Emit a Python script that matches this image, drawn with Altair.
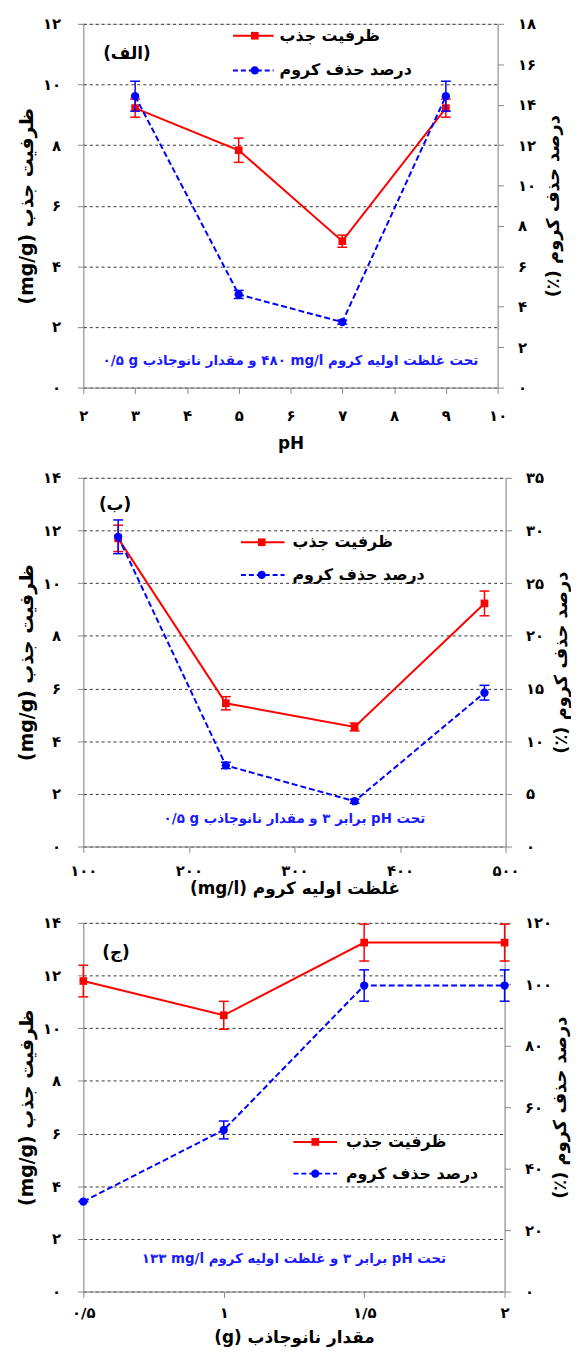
import altair as alt
import pandas as pd

RLE, LRE, PDF = "\u202B", "\u202A", "\u202C"


def rtl(s):
    return RLE + s + PDF


def ltr(s):
    return LRE + s + PDF


FONT = "DejaVu Sans"
RED = "#FF0000"
BLUE = "#0000FF"
ANN_BLUE = "#1a1aff"

# ---------------- data: panel A (pH) ----------------
ph = [3, 5, 7, 9]
cap_ph = [9.22, 7.83, 4.83, 9.22]
cap_ph_err = [0.3, 0.4, 0.2, 0.3]
rem_ph = [14.42, 4.61, 3.24, 14.42]
rem_ph_err = [0.74, 0.2, 0.1, 0.74]

# ---------------- data: panel B (initial concentration) ----------------
conc = [133, 235, 357, 480]
cap_conc = [11.7, 5.44, 4.54, 9.23]
cap_conc_err = [0.5, 0.25, 0.15, 0.47]
rem_conc = [29.4, 7.7, 4.3, 14.6]
rem_conc_err = [1.6, 0.3, 0.2, 0.7]

# ---------------- data: panel C (dose) ----------------
dose = [0.5, 1.0, 1.5, 2.0]
cap_dose = [11.79, 10.49, 13.25, 13.25]
cap_dose_err = [0.6, 0.53, 0.7, 0.7]
rem_dose = [29.3, 52.6, 99.6, 99.6]
rem_dose_err = [0.0, 2.9, 5.1, 5.1]

# ---------------- tick values / labels ----------------
ph_ticks = [2, 3, 4, 5, 6, 7, 8, 9, 10]
ph_labels = ["۲", "۳", "۴", "۵", "۶", "۷", "۸", "۹", "۱۰"]
conc_ticks = [100, 200, 300, 400, 500]
conc_labels = ["۱۰۰", "۲۰۰", "۳۰۰", "۴۰۰", "۵۰۰"]
dose_ticks = [0.5, 1.0, 1.5, 2.0]
dose_labels = ["۰/۵", "۱", "۱/۵", "۲"]

capA_ticks = [0, 2, 4, 6, 8, 10, 12]
capA_labels = ["۰", "۲", "۴", "۶", "۸", "۱۰", "۱۲"]
remA_ticks = [0, 2, 4, 6, 8, 10, 12, 14, 16, 18]
remA_labels = ["۰", "۲", "۴", "۶", "۸", "۱۰", "۱۲", "۱۴", "۱۶", "۱۸"]
cap14_ticks = [0, 2, 4, 6, 8, 10, 12, 14]
cap14_labels = ["۰", "۲", "۴", "۶", "۸", "۱۰", "۱۲", "۱۴"]
remB_ticks = [0, 5, 10, 15, 20, 25, 30, 35]
remB_labels = ["۰", "۵", "۱۰", "۱۵", "۲۰", "۲۵", "۳۰", "۳۵"]
remC_ticks = [0, 20, 40, 60, 80, 100, 120]
remC_labels = ["۰", "۲۰", "۴۰", "۶۰", "۸۰", "۱۰۰", "۱۲۰"]

# ---------------- texts ----------------
leg_cap = "ظرفیت جذب"
leg_rem = "درصد حذف کروم"
ytitle_left = "ظرفیت جذب (mg/g)"
ytitle_right = "درصد حذف کروم (٪)"
xtitle_A = "pH"
xtitle_B = "غلظت اولیه کروم (mg/l)"
xtitle_C = "مقدار نانوجاذب (g)"
tag_A = "(الف)"
tag_B = "(ب)"
tag_C = "(ج)"
ann_A = "تحت غلظت اولیه کروم " + ltr("۴۸۰ mg/l") + " و مقدار نانوجاذب " + ltr("۰/۵ g")
ann_B = "تحت pH برابر ۳ و مقدار نانوجاذب " + ltr("۰/۵ g")
ann_C = "تحت pH برابر ۳ و غلظت اولیه کروم  " + ltr("۱۳۳ mg/l")


def label_expr(vals, labs):
    expr = "''"
    for v, l in reversed(list(zip(vals, labs))):
        expr = f"abs(datum.value - {v}) < 1e-9 ? '{l}' : {expr}"
    return expr


def text_layer(txt, x, y, size=14, color="black", align="left"):
    return alt.Chart(pd.DataFrame({"t": [txt]})).mark_text(
        font=FONT, fontSize=size, fontWeight="bold", color=color,
        align=align, baseline="middle"
    ).encode(text="t:N", x=alt.value(x), y=alt.value(y))


def panel(xv, red, red_err, blue, blue_err, xdom, xticks, xlabs, xtitle,
          ldom, lticks, llabs, rdom, rticks, rlabs, ann, tag,
          width, height, leg, tagpos, ann_y, xlab_pad, xtitle_y):
    df = pd.DataFrame({
        "x": xv,
        "cap": red,
        "cap_lo": [a - b for a, b in zip(red, red_err)],
        "cap_hi": [a + b for a, b in zip(red, red_err)],
        "rem": blue,
        "rem_lo": [a - b for a, b in zip(blue, blue_err)],
        "rem_hi": [a + b for a, b in zip(blue, blue_err)],
    })
    xaxis = alt.Axis(
        orient="bottom", values=xticks, labelExpr=label_expr(xticks, xlabs),
        title=rtl(xtitle), titleY=xtitle_y, titleBaseline="middle",
        titleFontSize=17, titleFont=FONT, titleFontWeight="bold",
        labelFontSize=15, labelFont=FONT, labelFontWeight="bold",
        labelPadding=xlab_pad, tickSize=6, grid=False,
        labelFlush=False, labelOverlap=False,
    )
    xenc = alt.X("x:Q", scale=alt.Scale(domain=xdom, nice=False, zero=False), axis=xaxis)
    laxis = alt.Axis(
        orient="left", values=lticks, labelExpr=label_expr(lticks, llabs),
        title=rtl(ytitle_left), titleAngle=-90, titleX=-57, titleY=height / 2,
        titleBaseline="middle", titleAlign="center",
        titleFontSize=19, titleFont=FONT, titleFontWeight="bold",
        labelFontSize=15, labelFont=FONT, labelFontWeight="bold",
        labelPadding=17, tickSize=6, grid=True, gridDash=[3, 3],
        gridColor="#333333", gridWidth=1, labelFlush=False, labelOverlap=False,
    )
    raxis = alt.Axis(
        orient="right", values=rticks, labelExpr=label_expr(rticks, rlabs),
        title=rtl(ytitle_right), titleAngle=-90, titleX=56, titleY=height / 2,
        titleBaseline="middle", titleAlign="center",
        titleFontSize=18, titleFont=FONT, titleFontWeight="bold",
        labelFontSize=15, labelFont=FONT, labelFontWeight="bold",
        labelPadding=14, tickSize=6, grid=False, labelFlush=False, labelOverlap=False,
    )
    lscale = alt.Scale(domain=ldom, nice=False, zero=False)
    rscale = alt.Scale(domain=rdom, nice=False, zero=False)
    base = alt.Chart(df)

    red_line = base.mark_line(color=RED, strokeWidth=2).encode(
        x=xenc, y=alt.Y("cap:Q", scale=lscale, axis=laxis))
    red_err = base.mark_rule(color=RED, strokeWidth=1.5).encode(
        x=xenc, y=alt.Y("cap_lo:Q", scale=lscale, axis=laxis), y2="cap_hi:Q")
    red_c1 = base.mark_tick(orient="horizontal", color=RED, thickness=1.5, size=10, opacity=1).encode(
        x=xenc, y=alt.Y("cap_lo:Q", scale=lscale, axis=laxis))
    red_c2 = base.mark_tick(orient="horizontal", color=RED, thickness=1.5, size=10, opacity=1).encode(
        x=xenc, y=alt.Y("cap_hi:Q", scale=lscale, axis=laxis))
    red_pt = base.mark_point(shape="square", filled=True, size=60, color=RED, opacity=1).encode(
        x=xenc, y=alt.Y("cap:Q", scale=lscale, axis=laxis))
    red_group = alt.layer(red_line, red_err, red_c1, red_c2, red_pt)

    blue_line = base.mark_line(color=BLUE, strokeWidth=2, strokeDash=[6, 3]).encode(
        x=xenc, y=alt.Y("rem:Q", scale=rscale, axis=raxis))
    blue_err = base.mark_rule(color=BLUE, strokeWidth=1.5).encode(
        x=xenc, y=alt.Y("rem_lo:Q", scale=rscale, axis=raxis), y2="rem_hi:Q")
    blue_c1 = base.mark_tick(orient="horizontal", color=BLUE, thickness=1.5, size=10, opacity=1).encode(
        x=xenc, y=alt.Y("rem_lo:Q", scale=rscale, axis=raxis))
    blue_c2 = base.mark_tick(orient="horizontal", color=BLUE, thickness=1.5, size=10, opacity=1).encode(
        x=xenc, y=alt.Y("rem_hi:Q", scale=rscale, axis=raxis))
    blue_pt = base.mark_point(shape="circle", filled=True, size=70, color=BLUE, opacity=1).encode(
        x=xenc, y=alt.Y("rem:Q", scale=rscale, axis=raxis))
    blue_group = alt.layer(blue_line, blue_err, blue_c1, blue_c2, blue_pt)

    lx1, lx2, lxm, ltx, ly1, ly2 = leg
    one = pd.DataFrame({"a": [0]})
    leg_red_line = alt.Chart(one).mark_rule(color=RED, strokeWidth=2).encode(
        x=alt.value(lx1), x2=alt.value(lx2), y=alt.value(ly1))
    leg_red_pt = alt.Chart(one).mark_point(shape="square", filled=True, size=60, color=RED, opacity=1).encode(
        x=alt.value(lxm), y=alt.value(ly1))
    leg_blue_line = alt.Chart(one).mark_rule(color=BLUE, strokeWidth=2, strokeDash=[5, 3]).encode(
        x=alt.value(lx1), x2=alt.value(lx2), y=alt.value(ly2))
    leg_blue_pt = alt.Chart(one).mark_point(shape="circle", filled=True, size=70, color=BLUE, opacity=1).encode(
        x=alt.value(lxm), y=alt.value(ly2))
    leg_t1 = text_layer(leg_cap, ltx, ly1, size=16)
    leg_t2 = text_layer(leg_rem, ltx, ly2, size=16)
    tag_t = text_layer(rtl(tag), tagpos[0], tagpos[1], size=17, align="center")
    ann_t = text_layer(rtl(ann), width / 2, ann_y, size=13.5, color=ANN_BLUE, align="center")

    return alt.layer(
        red_group, blue_group, leg_red_line, leg_red_pt, leg_blue_line, leg_blue_pt,
        leg_t1, leg_t2, tag_t, ann_t
    ).resolve_scale(y="independent").properties(width=width, height=height)


pA = panel(ph, cap_ph, cap_ph_err, rem_ph, rem_ph_err, [2, 10], ph_ticks, ph_labels, xtitle_A,
           [0, 12], capA_ticks, capA_labels, [0, 18], remA_ticks, remA_labels, ann_A, tag_A,
           418, 367, (151, 192, 173, 198, 12, 47), (44, 30), 340, 15, 56)
pB = panel(conc, cap_conc, cap_conc_err, rem_conc, rem_conc_err, [100, 500], conc_ticks, conc_labels, xtitle_B,
           [0, 14], cap14_ticks, cap14_labels, [0, 35], remB_ticks, remB_labels, ann_B, tag_B,
           426, 372, (159, 203, 180, 211, 65, 98), (32, 27), 344, 11, 42)
pC = panel(dose, cap_dose, cap_dose_err, rem_dose, rem_dose_err, [0.5, 2.0], dose_ticks, dose_labels, xtitle_C,
           [0, 14], cap14_ticks, cap14_labels, [0, 120], remC_ticks, remC_labels, ann_C, tag_C,
           425, 372, (212, 256, 234, 265, 221, 253), (33, 30), 339, 8, 46)

chart = alt.vconcat(pA, pB, pC, spacing=18).properties(
    padding={"left": 9, "top": 2, "right": 0, "bottom": 0}
).configure_view(stroke="#222222", strokeWidth=1.5).configure_axis(
    domainColor="#222222", domainWidth=1.5, tickColor="#222222", tickWidth=1.5,
    labelColor="black", titleColor="black"
).configure(font=FONT)

chart.save("out.html", embed_options={"renderer": "svg", "actions": False})
